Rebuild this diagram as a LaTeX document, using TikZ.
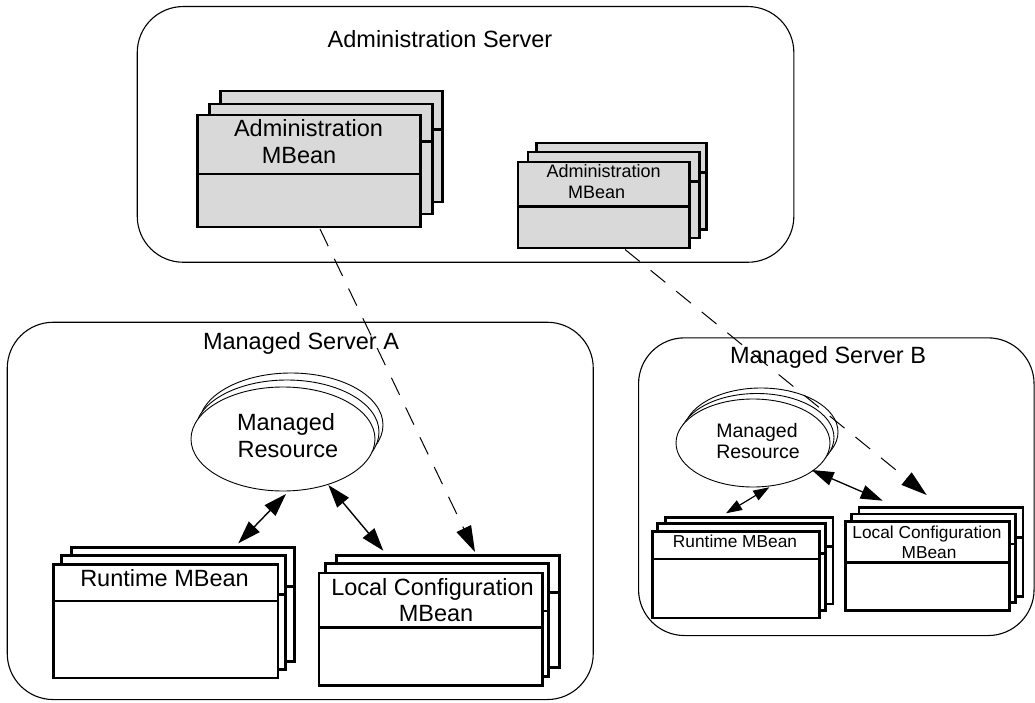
\documentclass[tikz,border=0pt]{standalone}
\usepackage{fontspec}
\setmainfont{Liberation Sans}
\usetikzlibrary{arrows.meta,shapes.geometric}
\definecolor{cardgray}{RGB}{217,217,217}
\begin{document}
\begin{tikzpicture}[x=1pt,y=-1pt,
 server/.style={draw,line width=1.1pt,rounded corners=46pt,inner sep=0,anchor=north west},
 card/.style={draw,line width=2.5pt,line join=miter,inner sep=0,anchor=north west},
 admcard/.style={card,fill=cardgray},
 wcard/.style={card,fill=white},
 divider/.style={line width=2.5pt,line cap=butt},
 resource/.style={ellipse,draw,line width=0.9pt,fill=white,inner sep=0},
 lbl/.style={inner sep=0,text depth=0pt},
 fbig/.style={lbl,text height=16.9pt,font=\fontsize{23.5pt}{28pt}\selectfont},
 fmid/.style={lbl,text height=14pt,font=\fontsize{19.5pt}{23pt}\selectfont},
 fsmall/.style={lbl,text height=12.45pt,font=\fontsize{17.3pt}{21pt}\selectfont},
 fadm/.style={lbl,text height=12.95pt,font=\fontsize{18pt}{21pt}\selectfont},
 dasharrow/.style={line width=1pt,dash pattern=on 19pt off 14pt,-{Triangle[length=26pt,width=16pt]}},
 bigdbl/.style={line width=1.4pt,{Triangle[length=23pt,width=15pt]}-{Triangle[length=23pt,width=15pt]}},
 smalldbl/.style={line width=1.2pt,{Triangle[length=16pt,width=11pt]}-{Triangle[length=16pt,width=11pt]}},
 meddbl/.style={line width=1.3pt,{Triangle[length=22pt,width=14pt]}-{Triangle[length=22pt,width=14pt]}},
]
\useasboundingbox (0,0) rectangle (1035,703);

% servers
\node[server,minimum width=656.6pt,minimum height=255.7pt] (adminsrv) at (136.7,6) {};
\node[server,minimum width=586pt,minimum height=377.3pt] (srvA) at (6.7,321.7) {};
\node[server,minimum width=395.5pt,minimum height=297.7pt] (srvB) at (638,337.3) {};

\node[fbig] (admintitle) at (440,39.5) {Administration Server};
\node[fbig] (titleA) at (301,341) {Managed Server A};
\node[fbig] (titleB) at (828,355) {Managed Server B};

% big administration MBean stack
\node[admcard,minimum width=222pt,minimum height=110.7pt] (admBig3) at (219,90) {};
\draw[divider] (219,129.3) -- (443.5,129.3);
\node[admcard,minimum width=223pt,minimum height=110pt] (admBig2) at (208,103) {};
\draw[divider] (208,141.7) -- (433,141.7);
\node[admcard,minimum width=223pt,minimum height=112pt] (admBig) at (196,114) {};
\draw[divider] (196,174) -- (421,174);
\node[fbig] (admBigL1) at (308.5,127.8) {Administration};
\node[fbig] (admBigL2) at (299,155.5) {MBean};

% small administration MBean stack
\node[admcard,minimum width=170pt,minimum height=86.6pt] (admSm3) at (535,141.7) {};
\draw[divider] (535,172.3) -- (706.7,172.3);
\node[admcard,minimum width=171.6pt,minimum height=85.7pt] (admSm2) at (526.7,151) {};
\draw[divider] (526.7,181.7) -- (700,181.7);
\node[admcard,minimum width=171.3pt,minimum height=86pt] (admSm) at (516.7,160.7) {};
\draw[divider] (516.7,206.7) -- (689.5,206.7);
\node[fadm] (admSmL1) at (603.7,171.5) {Administration};
\node[fadm] (admSmL2) at (596.7,192) {MBean};

% runtime MBean A
\node[wcard,minimum width=223.3pt,minimum height=114pt] (rtA3) at (70,546) {};
\draw[divider] (70,586.7) -- (295.7,586.7);
\node[wcard,minimum width=224.3pt,minimum height=114pt] (rtA2) at (60,554.3) {};
\draw[divider] (60,594.3) -- (285.7,594.3);
\node[wcard,minimum width=224.4pt,minimum height=113.4pt] (rtA) at (52.3,563.3) {};
\draw[divider] (52.3,601) -- (278,601);
\node[fbig] (rtAL) at (164.5,578.5) {Runtime MBean};

% local configuration MBean A
\node[wcard,minimum width=223.3pt,minimum height=112pt] (lcA3) at (335,554) {};
\draw[divider] (335,592.7) -- (560,592.7);
\node[wcard,minimum width=223pt,minimum height=112.7pt] (lcA2) at (324.3,562.3) {};
\draw[divider] (324.3,611) -- (550,611);
\node[wcard,minimum width=223.3pt,minimum height=112.6pt] (lcA) at (317.7,571.7) {};
\draw[divider] (317.7,627.7) -- (542.3,627.7);
\node[fbig] (lcAL1) at (432.5,587) {Local Configuration};
\node[fbig] (lcAL2) at (436,613.5) {MBean};

% runtime MBean B
\node[wcard,minimum width=167.7pt,minimum height=86.7pt] (rtB3) at (664,516) {};
\draw[divider] (664,546.7) -- (832.7,546.7);
\node[wcard,minimum width=168pt,minimum height=86.7pt] (rtB2) at (656,522.3) {};
\draw[divider] (656,553.3) -- (825,553.3);
\node[wcard,minimum width=167.3pt,minimum height=86.7pt] (rtB) at (651,530) {};
\draw[divider] (651,559) -- (820,559);
\node[fsmall] (rtBL) at (735,541) {Runtime MBean};

% local configuration MBean B
\node[wcard,minimum width=164pt,minimum height=89pt] (lcB3) at (857.7,506) {};
\draw[divider] (857.7,537.3) -- (1023.3,537.3);
\node[wcard,minimum width=164pt,minimum height=88.3pt] (lcB2) at (850,512.7) {};
\draw[divider] (850,544) -- (1015.5,544);
\node[wcard,minimum width=164pt,minimum height=89pt] (lcB) at (844.3,520) {};
\draw[divider] (844.3,562.3) -- (1010,562.3);
\node[fsmall] (lcBL1) at (927,532) {Local Configuration};
\node[fsmall] (lcBL2) at (929,552) {MBean};

% managed resources
\node[resource,minimum width=184pt,minimum height=104pt] (resA3) at (291,425) {};
\node[resource,minimum width=184pt,minimum height=104pt] (resA2) at (287,432) {};
\node[resource,minimum width=184pt,minimum height=104pt] (resA) at (283,439) {};
\node[fbig] (resAL1) at (286,422) {Managed};
\node[fbig] (resAL2) at (288,449.5) {Resource};

\node[resource,minimum width=154pt,minimum height=88pt] (resB3) at (761,432) {};
\node[resource,minimum width=154pt,minimum height=88pt] (resB2) at (757,437.5) {};
\node[resource,minimum width=154pt,minimum height=88pt] (resB) at (753,443) {};
\node[fmid] (resBL1) at (757,430.5) {Managed};
\node[fmid] (resBL2) at (758,451.7) {Resource};

% connector end points
\coordinate (d1s) at (320,229);
\coordinate (d1e) at (475,552);
\coordinate (d2s) at (625,249.5);
\coordinate (d2e) at (926.7,495);
\coordinate (aRt) at (238.3,543.3);
\coordinate (aRr) at (286,494);
\coordinate (bRr) at (328.3,485);
\coordinate (bLc) at (383.3,550.7);
\coordinate (cRt) at (726,513.3);
\coordinate (cRr) at (769.3,487.3);
\coordinate (dRr) at (811.7,470);
\coordinate (dLc) at (882.7,500.7);

% connectors
\draw[bigdbl] (aRt) -- (aRr);
\draw[bigdbl] (bRr) -- (bLc);
\draw[smalldbl] (cRt) -- (cRr);
\draw[meddbl] (dRr) -- (dLc);
\draw[dasharrow] (d1s) -- (d1e);
\draw[dasharrow] (d2s) -- (d2e);
\end{tikzpicture}
\end{document}
